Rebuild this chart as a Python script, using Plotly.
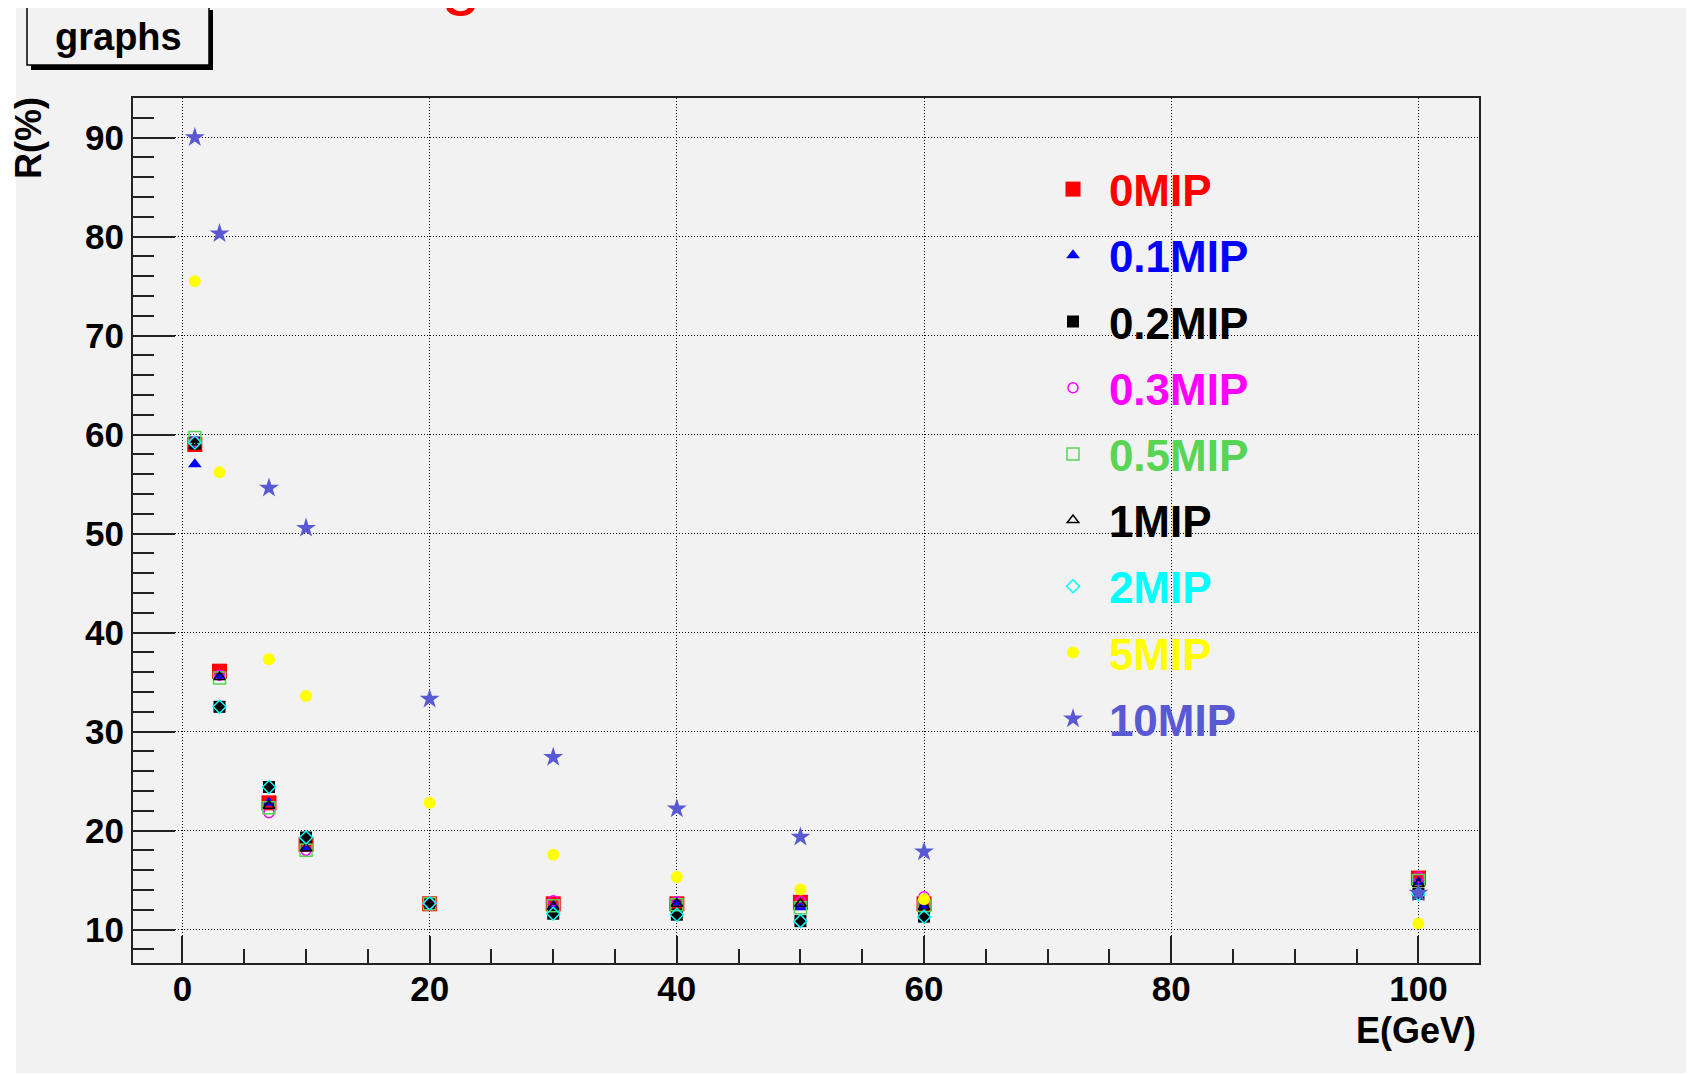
import plotly.graph_objects as go

# ---------------- data ----------------
energy = [1, 3, 7, 10, 20, 30, 40, 50, 60, 100]

series_names = ["0MIP", "0.1MIP", "0.2MIP", "0.3MIP", "0.5MIP", "1MIP", "2MIP", "5MIP", "10MIP"]

r_0mip = [59.0, 36.1, 22.8, 18.6, 12.6, 12.6, 12.6, 12.75, 12.6, 15.2]
r_01mip = [57.0, 35.6, 22.8, 18.2, 12.6, 12.4, 12.7, 12.25, 12.4, 14.8]
r_02mip = [59.2, 32.5, 24.4, 19.3, 12.65, 11.6, 11.5, 10.85, 11.3, 13.6]
r_03mip = [59.3, 35.7, 21.8, 18.0, 12.6, 12.9, 12.8, 12.8, 13.3, 15.3]
r_05mip = [59.7, 35.4, 22.3, 18.0, 12.6, 12.4, 12.5, 12.2, 12.4, 14.95]
r_1mip = [58.8, 35.5, 22.5, 18.2, 12.6, 12.3, 12.6, 12.6, 12.3, 14.6]
r_2mip = [59.2, 32.5, 24.4, 19.3, 12.65, 11.6, 11.5, 10.85, 11.3, 13.6]
r_5mip = [75.5, 56.2, 37.3, 33.6, 22.8, 17.55, 15.3, 14.05, 13.05, 10.6]
r_10mip = [90.0, 80.3, 54.6, 50.55, 33.3, 27.4, 22.2, 19.35, 17.85, 13.7]

x_ticks = [0, 20, 40, 60, 80, 100]
y_ticks = [10, 20, 30, 40, 50, 60, 70, 80, 90]

# ---------------- layout geometry (page pixels) ----------------
OFF = 8                      # page body margin
W, H = 1694 - OFF, 1075 - OFF
ML, MT = 133 - OFF, 98 - OFF
MR = W - (1479 - OFF)
MB = H - (963 - OFF)
PW, PH = W - ML - MR, H - MT - MB

FONT = "Liberation Sans, Arial, Helvetica, sans-serif"
BG = "#f2f2f2"

styles = [
    dict(symbol="square", color="#ff0000", size=15, lw=0),
    dict(symbol="triangle-up", color="#0000ff", size=12, lw=0),
    dict(symbol="square", color="#000000", size=12, lw=0),
    dict(symbol="circle-open", color="#ff00ff", size=10, lw=1.5),
    dict(symbol="square-open", color="#59d454", size=12, lw=1.5),
    dict(symbol="triangle-up-open", color="#000000", size=10, lw=1.5),
    dict(symbol="diamond-open", color="#00ffff", size=10, lw=1.5),
    dict(symbol="circle", color="#ffff00", size=12, lw=0),
    dict(symbol="star", color="#5959d4", size=15, lw=0),
]
values = [r_0mip, r_01mip, r_02mip, r_03mip, r_05mip, r_1mip, r_2mip, r_5mip, r_10mip]


def px2x(p):
    return (p - OFF - ML) / PW


def py2y(p):
    return (H - MB - (p - OFF)) / PH


fig = go.Figure()
for i, (name, vals, st) in enumerate(zip(series_names, values, styles)):
    fig.add_trace(go.Scatter(
        x=energy, y=vals, mode="markers",
        name="<span style='color:%s'>\u00a0\u200a%s</span>" % (st["color"], name),
        legendgroup="g%d" % i,
        marker=dict(symbol=st["symbol"], color=st["color"], size=st["size"],
                    line=dict(width=st["lw"], color=st["color"])),
        cliponaxis=False,
    ))

shapes = [
    dict(type="rect", xref="paper", yref="paper", layer="below",
         x0=px2x(16), x1=px2x(1686), y0=py2y(1073), y1=py2y(6),
         fillcolor=BG, line=dict(width=0)),
    dict(type="rect", xref="paper", yref="paper", layer="above",
         x0=px2x(31), x1=px2x(213), y0=py2y(70), y1=py2y(10),
         fillcolor="black", line=dict(width=0)),
    dict(type="rect", xref="paper", yref="paper", layer="above",
         x0=px2x(27), x1=px2x(209), y0=py2y(65), y1=py2y(6),
         fillcolor=BG, line=dict(width=1.5, color="black")),
]

annotations = [
    dict(text="graphs", xref="paper", yref="paper", x=px2x(118), y=py2y(37),
         xanchor="center", yanchor="middle", showarrow=False,
         font=dict(family=FONT, size=38, color="black", weight="bold")),
    dict(text="R(%)", xref="paper", yref="paper", x=px2x(28), y=py2y(95),
         xanchor="center", yanchor="top", showarrow=False, textangle=-90,
         font=dict(family=FONT, size=36, color="black", weight="bold")),
    dict(text="E(GeV)", xref="paper", yref="paper", x=px2x(1478), y=py2y(1008),
         xanchor="right", yanchor="top", showarrow=False,
         font=dict(family=FONT, size=36, color="black", weight="bold")),
    dict(text="g", xref="paper", yref="paper", x=px2x(461), y=py2y(18),
         xanchor="center", yanchor="bottom", showarrow=False,
         font=dict(family=FONT, size=72, color="#ff0000")),
]

axis_common = dict(
    showline=True, mirror=True, linecolor="#222222", linewidth=2,
    showgrid=True, gridcolor="#000000", gridwidth=1, griddash="1px,2px",
    zeroline=False, ticks="inside", tickcolor="#222222", tickwidth=1.5,
    tickfont=dict(family=FONT, size=35, color="black", weight="bold"),
)

fig.update_layout(
    width=W, height=H,
    margin=dict(l=ML, r=MR, t=MT, b=MB),
    paper_bgcolor="white", plot_bgcolor=BG,
    showlegend=True,
    legend=dict(x=px2x(1053), y=py2y(154), xanchor="left", yanchor="top",
                bgcolor="rgba(0,0,0,0)", borderwidth=0, tracegroupgap=6,
                font=dict(family=FONT, size=44, color="black", weight="bold"),
                itemsizing="trace"),
    shapes=shapes, annotations=annotations,
    xaxis=dict(range=[-4.0, 104.9], tickvals=x_ticks, ticklen=27,
               ticklabelstandoff=-6,
               minor=dict(dtick=5, ticklen=14, ticks="inside", tickcolor="#222222",
                          tickwidth=1.5, showgrid=False),
               **axis_common),
    yaxis=dict(range=[6.62, 94.0], tickvals=y_ticks, ticklen=42,
               minor=dict(dtick=2, ticklen=21, ticks="inside", tickcolor="#222222",
                          tickwidth=1.5, showgrid=False),
               **axis_common),
)

fig.write_html("out.html")
